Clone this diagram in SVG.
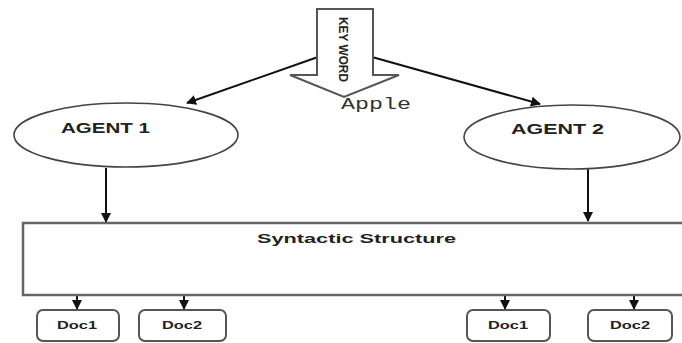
<svg xmlns="http://www.w3.org/2000/svg" width="682" height="343" viewBox="0 0 682 343">
  <style>
    .lbl { font-family: "Liberation Sans", Arial, sans-serif; font-weight: bold; fill: #222; }
    .edge { stroke: #111; stroke-width: 2; fill: none; }
    .oval { fill: #fff; stroke: #444; stroke-width: 1.6; }
    .doc { fill: #fff; stroke: #555; stroke-width: 2; }
  </style>
  <defs>
    <marker id="tip" viewBox="0 0 10 10" refX="9" refY="5" markerWidth="5" markerHeight="5" orient="auto" markerUnits="strokeWidth">
      <path d="M0,0 L10,5 L0,10 Z" fill="#111"/>
    </marker>
  </defs>
  <rect width="682" height="343" fill="#fff"/>

  <!-- connectors -->
  <g id="connectors">
    <line class="edge" x1="318" y1="57" x2="187" y2="103" marker-end="url(#tip)"/>
    <line class="edge" x1="372" y1="57" x2="540" y2="104" marker-end="url(#tip)"/>
    <line class="edge" x1="106" y1="168" x2="106" y2="222" marker-end="url(#tip)"/>
    <line class="edge" x1="588" y1="169" x2="588" y2="221" marker-end="url(#tip)"/>
    <line class="edge" x1="77" y1="296" x2="77" y2="309" marker-end="url(#tip)"/>
    <line class="edge" x1="184" y1="296" x2="184" y2="309" marker-end="url(#tip)"/>
    <line class="edge" x1="505" y1="296" x2="505" y2="309" marker-end="url(#tip)"/>
    <line class="edge" x1="634" y1="296" x2="634" y2="309" marker-end="url(#tip)"/>
  </g>

  <!-- keyword block arrow -->
  <g id="keyword">
    <polygon points="317,9 373,9 373,75 399,75 344,97 290,75 317,75" fill="#fff" stroke="#555" stroke-width="2" stroke-linejoin="miter"/>
    <text class="lbl" font-size="13" transform="translate(339,17) rotate(90)" textLength="65" lengthAdjust="spacingAndGlyphs">KEY WORD</text>
    <text x="341" y="109" font-family="Liberation Mono, Courier New, monospace" font-size="16" fill="#333" textLength="70" lengthAdjust="spacingAndGlyphs">Apple</text>
  </g>

  <g id="agent1">
    <ellipse class="oval" cx="126" cy="135" rx="112" ry="32"/>
    <text class="lbl" x="61" y="133" font-size="14" textLength="89" lengthAdjust="spacingAndGlyphs">AGENT 1</text>
  </g>

  <g id="agent2">
    <ellipse class="oval" cx="572" cy="137" rx="108" ry="32"/>
    <text class="lbl" x="511" y="134" font-size="14" textLength="93" lengthAdjust="spacingAndGlyphs">AGENT 2</text>
  </g>

  <g id="syntactic">
    <rect x="23" y="223" width="672" height="72" fill="#fff" stroke="#666" stroke-width="2.5"/>
    <text class="lbl" x="257" y="243" font-size="13" textLength="199" lengthAdjust="spacingAndGlyphs">Syntactic Structure</text>
  </g>

  <g id="doc1a">
    <rect class="doc" x="37" y="310" width="82" height="31" rx="6"/>
    <text class="lbl" x="57" y="329" font-size="11" textLength="40" lengthAdjust="spacingAndGlyphs">Doc1</text>
  </g>
  <g id="doc2a">
    <rect class="doc" x="139" y="310" width="87" height="31" rx="6"/>
    <text class="lbl" x="162" y="329" font-size="11" textLength="40" lengthAdjust="spacingAndGlyphs">Doc2</text>
  </g>
  <g id="doc1b">
    <rect class="doc" x="467" y="310" width="83" height="31" rx="6"/>
    <text class="lbl" x="488" y="329" font-size="11" textLength="40" lengthAdjust="spacingAndGlyphs">Doc1</text>
  </g>
  <g id="doc2b">
    <rect class="doc" x="588" y="310" width="84" height="31" rx="6"/>
    <text class="lbl" x="610" y="329" font-size="11" textLength="40" lengthAdjust="spacingAndGlyphs">Doc2</text>
  </g>
</svg>
